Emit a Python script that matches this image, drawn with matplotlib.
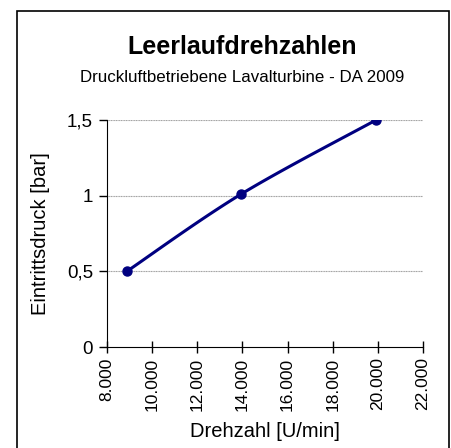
import numpy as np
import matplotlib.pyplot as plt
from matplotlib.patches import Rectangle
from matplotlib.ticker import FuncFormatter

# Messwerte
drehzahl = [8880, 13940, 19920]
druck = [0.50, 1.01, 1.50]

x_ticks = [8000, 10000, 12000, 14000, 16000, 18000, 20000, 22000]
y_ticks = [0, 0.5, 1, 1.5]

plt.rcParams['font.family'] = ['Liberation Sans', 'DejaVu Sans']


def smooth(xs, ys, xr, yr, aspect, n=40):
    # Bezier-Glaettung wie in Excel, in Pixel-naehe Koordinaten
    px = (np.array(xs) - xr[0]) / (xr[1] - xr[0])
    py = (np.array(ys) - yr[0]) / (yr[1] - yr[0]) * aspect
    pts = np.column_stack([px, py])
    out = []
    for i in range(len(pts) - 1):
        p0 = pts[max(i - 1, 0)]
        p1 = pts[i]
        p2 = pts[i + 1]
        p3 = pts[min(i + 2, len(pts) - 1)]
        c1 = p1 + (p2 - p0) / 6
        c2 = p2 - (p3 - p1) / 6
        t = np.linspace(0, 1, n)[:, None]
        seg = ((1 - t) ** 3 * p1 + 3 * (1 - t) ** 2 * t * c1
               + 3 * (1 - t) * t ** 2 * c2 + t ** 3 * p2)
        out.append(seg)
    out = np.vstack(out)
    sx = out[:, 0] * (xr[1] - xr[0]) + xr[0]
    sy = out[:, 1] / aspect * (yr[1] - yr[0]) + yr[0]
    return sx, sy


def main():
    fig = plt.figure(figsize=(4.52, 4.48), dpi=100)
    fig.patches.append(Rectangle((17 / 452, -0.1), 432 / 452, 1 - 11 / 448 + 0.1,
                                 transform=fig.transFigure, fill=False,
                                 edgecolor='black', linewidth=1.2))

    ax = fig.add_axes([107 / 452, 1 - 347 / 448, 316 / 452, 227 / 448])
    xr = (8000, 22000)
    yr = (0, 1.5)

    for y in y_ticks[1:]:
        ax.axhline(y, color='#a0a0a0', linewidth=0.8, linestyle=(0, (1, 0.5)), zorder=1)

    sx, sy = smooth(drehzahl, druck, xr, yr, 227 / 316)
    ax.plot(sx, sy, color='#000080', linewidth=2.2, zorder=3)
    ax.plot(drehzahl, druck, 'o', color='#000080', markersize=6.5, zorder=4)

    ax.set_xlim(*xr)
    ax.set_ylim(*yr)
    ax.set_xticks(x_ticks)
    ax.set_yticks(y_ticks)
    ax.xaxis.set_major_formatter(FuncFormatter(lambda v, p: f"{int(v):,}".replace(',', '.')))
    ax.yaxis.set_major_formatter(FuncFormatter(lambda v, p: f"{v:g}".replace('.', ',')))
    ax.tick_params(axis='x', labelrotation=90, labelsize=12.5, direction='inout', length=8, width=1)
    ax.tick_params(axis='y', labelsize=13.5, direction='out', length=6, width=1, pad=4)
    ax.spines['top'].set_visible(False)
    ax.spines['right'].set_visible(False)

    ax.set_xlabel('Drehzahl [U/min]', fontsize=14.5, labelpad=8)
    ax.set_ylabel('Eintrittsdruck [bar]', fontsize=14.5, labelpad=12)

    fig.text(0.5 + 16 / 452, 1 - 47 / 448, 'Leerlaufdrehzahlen', ha='center', va='center',
             fontsize=18, fontweight='bold')
    fig.text(0.5 + 16 / 452, 1 - 77 / 448, 'Druckluftbetriebene Lavalturbine - DA 2009',
             ha='center', va='center', fontsize=12.2)

    fig.savefig('out.png', dpi=100)


if __name__ == "__main__":
    main()
